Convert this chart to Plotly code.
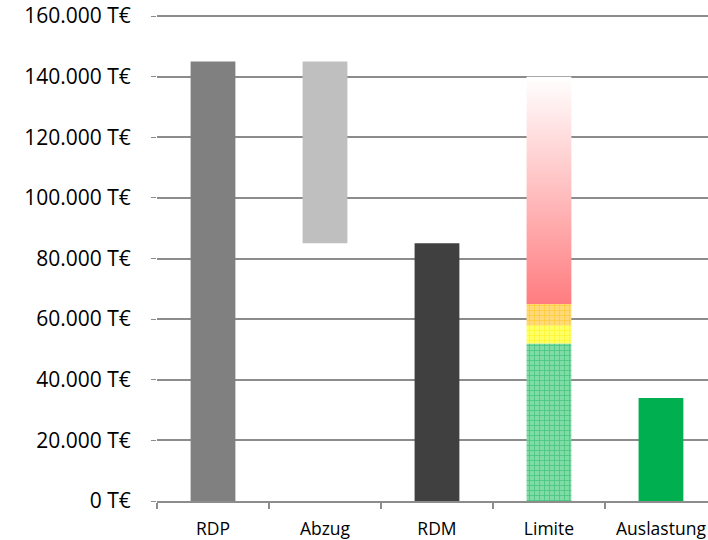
import plotly.graph_objects as go

categories = ["RDP", "Abzug", "RDM", "Limite", "Auslastung"]
y_tickvals = [0, 20000, 40000, 60000, 80000, 100000, 120000, 140000, 160000]
y_ticktext = ["0 T€", "20.000 T€", "40.000 T€", "60.000 T€", "80.000 T€",
              "100.000 T€", "120.000 T€", "140.000 T€", "160.000 T€"]

rdp_value = 145000
abzug_low = 85000
abzug_high = 145000
rdm_value = 85000
limite_green = 52000
limite_yellow = 58000
limite_orange = 65000
limite_top = 140000
auslastung_value = 34000

BAR_W = 0.4
FONT = "'Open Sans', Lato, sans-serif"
xs = list(range(len(categories)))

fig = go.Figure()

# RDP
fig.add_trace(go.Bar(x=[xs[0]], y=[rdp_value], width=BAR_W,
                     marker=dict(color="#808080", line=dict(width=0))))
# Abzug (floating)
fig.add_trace(go.Bar(x=[xs[1]], y=[abzug_high - abzug_low], base=[abzug_low], width=BAR_W,
                     marker=dict(color="#BFBFBF", line=dict(width=0))))
# RDM
fig.add_trace(go.Bar(x=[xs[2]], y=[rdm_value], width=BAR_W,
                     marker=dict(color="#404040", line=dict(width=0))))
# Limite - green zone
fig.add_trace(go.Bar(x=[xs[3]], y=[limite_green], base=[0], width=BAR_W,
                     marker=dict(color="#80DBA6", line=dict(width=0),
                                 pattern=dict(shape="+", fgcolor="#10B058", bgcolor="#80DBA6",
                                              size=5, solidity=0.3))))
# Limite - yellow zone
fig.add_trace(go.Bar(x=[xs[3]], y=[limite_yellow - limite_green], base=[limite_green], width=BAR_W,
                     marker=dict(color="#FFFF66", line=dict(width=0),
                                 pattern=dict(shape="+", fgcolor="#FFEA00", bgcolor="#FFFF66",
                                              size=5, solidity=0.3))))
# Limite - orange zone
fig.add_trace(go.Bar(x=[xs[3]], y=[limite_orange - limite_yellow], base=[limite_yellow], width=BAR_W,
                     marker=dict(color="#FFD97A", line=dict(width=0),
                                 pattern=dict(shape="+", fgcolor="#FFC000", bgcolor="#FFD97A",
                                              size=5, solidity=0.3))))
# Limite - red gradient zone
xc = xs[3]
fig.add_trace(go.Scatter(
    x=[xc - BAR_W / 2, xc + BAR_W / 2, xc + BAR_W / 2, xc - BAR_W / 2, xc - BAR_W / 2],
    y=[limite_orange, limite_orange, limite_top, limite_top, limite_orange],
    mode="lines", line=dict(width=0), fill="toself",
    fillgradient=dict(type="vertical",
                      colorscale=[[0, "#FF7C80"], [0.5, "#FFBFC0"], [1, "#FFFFFF"]]),
    hoverinfo="skip"))
# Auslastung
fig.add_trace(go.Bar(x=[xs[4]], y=[auslastung_value], width=BAR_W,
                     marker=dict(color="#00B050", line=dict(width=0))))

fig.update_layout(
    width=708, height=540,
    margin=dict(l=157, r=0, t=13, b=39),
    paper_bgcolor="white", plot_bgcolor="white",
    showlegend=False, barmode="overlay",
    font=dict(family=FONT, color="#000000"),
)
fig.update_xaxes(
    range=[-0.5, 4.42], tickvals=xs, ticktext=categories,
    ticks="", showgrid=False, zeroline=False,
    showline=True, linecolor="#8C8C8C", linewidth=2,
    tickfont=dict(size=17.5, family=FONT), ticklabelstandoff=11,
    minor=dict(ticks="outside", tick0=-0.5, dtick=1, ticklen=6, tickcolor="#8C8C8C",
               tickwidth=1.5, showgrid=False),
)
fig.update_yaxes(
    range=[0, 161000], tickvals=y_tickvals, ticktext=y_ticktext,
    showgrid=True, gridcolor="#8C8C8C", gridwidth=1.5, zeroline=False,
    showline=False, ticks="outside", ticklen=5, tickcolor="#8C8C8C",
    tickfont=dict(size=21, family=FONT), ticklabelstandoff=16,
)

fig.write_html("out.html", config={"displayModeBar": False},
               post_script="document.body.style.margin='0';")
